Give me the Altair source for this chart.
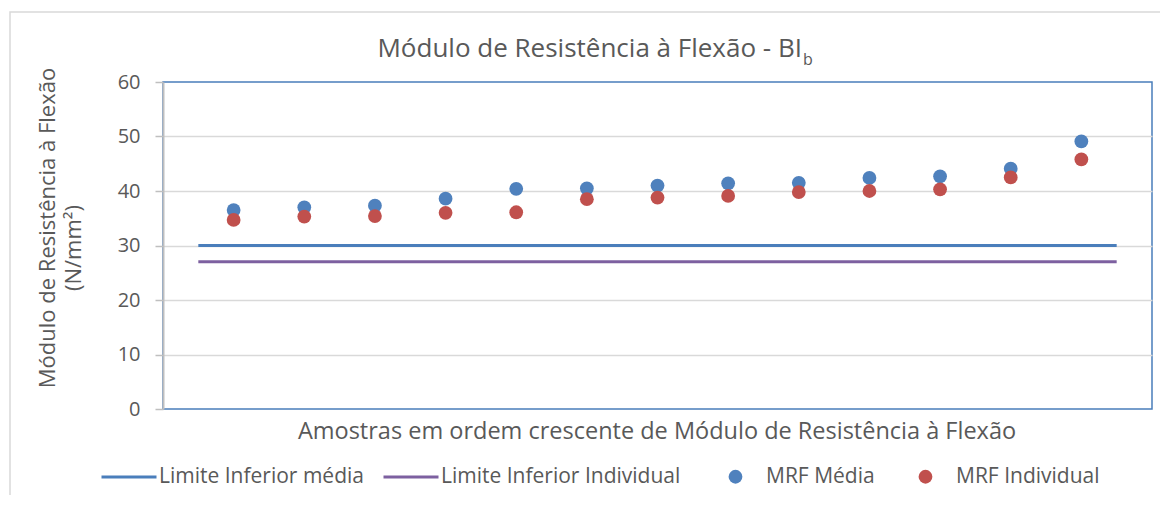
import altair as alt
import pandas as pd

# ---------------- data ----------------
amostras = list(range(1, 14))
mrf_media = [36.5, 37.0, 37.3, 38.6, 40.4, 40.5, 41.0, 41.4, 41.5, 42.4, 42.7, 44.1, 49.1]
mrf_individual = [34.7, 35.3, 35.4, 36.0, 36.1, 38.5, 38.8, 39.1, 39.8, 40.0, 40.3, 42.5, 45.8]
limite_x = [0.5, 13.5]
limite_media = [30, 30]
limite_individual = [27, 27]
y_ticks = [0, 10, 20, 30, 40, 50, 60]

line_names = ["Limite Inferior média", "Limite Inferior Individual"]
point_names = ["MRF Média", "MRF Individual"]

title_main = "Módulo de Resistência à Flexão - BI"
title_sub = "b"
y_title_1 = "Módulo de Resistência à Flexão"
y_title_2 = "(N/mm²)"
x_title = "Amostras em ordem crescente de Módulo de Resistência à Flexão"

FONT = "Open Sans"
TXT = "#595959"
BLUE_L = "#4A7EBB"
PURPLE_L = "#7D60A0"
BLUE_P = "#4F81BD"
RED_P = "#C0504D"

# ---------------- tables ----------------
df_lines = pd.DataFrame({
    "x": limite_x + limite_x,
    "y": limite_media + limite_individual,
    "serie": [line_names[0]] * 2 + [line_names[1]] * 2,
})
df_points = pd.DataFrame({
    "x": amostras + amostras,
    "y": mrf_media + mrf_individual,
    "serie": [point_names[0]] * len(amostras) + [point_names[1]] * len(amostras),
})

xs = alt.Scale(domain=[0, 14], nice=False, zero=False)
ys = alt.Scale(domain=[0, 60], nice=False)

y_axis = alt.Axis(
    values=y_ticks, title=None,
    grid=True, gridColor="#D9D9D9", gridWidth=1.5,
    gridOpacity=alt.condition("datum.value == 0 || datum.value == 60", alt.value(0), alt.value(1)),
    domainColor="#BFBFBF", domainWidth=2,
    tickColor="#BFBFBF", tickSize=8, tickWidth=1.5,
    labelPadding=15, labelFontSize=20, labelColor=TXT, labelFont=FONT,
)

lines = alt.Chart(df_lines).mark_line(strokeWidth=3).encode(
    x=alt.X("x:Q", scale=xs, axis=None),
    y=alt.Y("y:Q", scale=ys, axis=y_axis),
    color=alt.Color(
        "serie:N",
        scale=alt.Scale(domain=line_names, range=[BLUE_L, PURPLE_L]),
        legend=alt.Legend(
            orient="none", legendX=-63, legendY=366, direction="horizontal",
            title=None, symbolType="stroke", symbolSize=3025, symbolStrokeWidth=3,
            labelOffset=1, columnPadding=13, labelFontSize=21, labelFont=FONT,
            labelColor=TXT, padding=0, labelLimit=0,
        ),
    ),
)

points = alt.Chart(df_points).mark_circle(size=190, opacity=1).encode(
    x=alt.X("x:Q", scale=xs, axis=None),
    y=alt.Y("y:Q", scale=ys, axis=y_axis),
    color=alt.Color(
        "serie:N",
        scale=alt.Scale(domain=point_names, range=[BLUE_P, RED_P]),
        legend=alt.Legend(
            orient="none", legendX=562, legendY=384, direction="horizontal",
            title=None, symbolType="circle", symbolSize=190,
            labelOffset=20, columnPadding=40, labelFontSize=21, labelFont=FONT,
            labelColor=TXT, padding=0, labelLimit=0,
        ),
    ),
)

one = pd.DataFrame({"a": [0]})

border = alt.Chart(one).mark_rect(fillOpacity=0, stroke="#D9D9D9", strokeWidth=1.5).encode(
    x=alt.value(-153), x2=alt.value(1100), y=alt.value(-70), y2=alt.value(500)
)

def label(text, x, y, size, align="center", baseline="middle", angle=0):
    return alt.Chart(pd.DataFrame({"t": [text]})).mark_text(
        font=FONT, fontSize=size, color=TXT, align=align, baseline=baseline, angle=angle
    ).encode(x=alt.value(x), y=alt.value(y), text="t:N")

t_main = label(title_main, 639, -25, 26, align="right", baseline="alphabetic")
t_sub = label(title_sub, 640, -17, 16, align="left", baseline="alphabetic")
t_y1 = label(y_title_1, -115, 146, 22, angle=270)
t_y2 = label(y_title_2, -89, 166, 22, angle=270)
t_x = label(x_title, 494, 350, 23.5)

chart = alt.layer(border, lines, points, t_main, t_sub, t_y1, t_y2, t_x).resolve_scale(
    color="independent"
).resolve_legend(color="independent").properties(
    width=989, height=327,
    background="white",
    autosize=alt.AutoSizeParams(type="none"),
    padding={"left": 155, "top": 74, "right": 8, "bottom": 86},
).configure_view(stroke=BLUE_L, strokeWidth=1.5)

chart.save("out.html", embed_options={"renderer": "svg", "actions": False})
